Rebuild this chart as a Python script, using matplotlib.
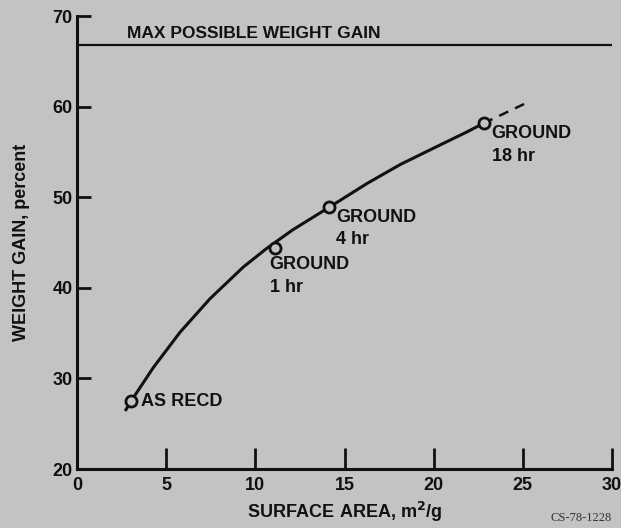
#!/usr/bin/env python3
"""Weight gain vs surface area, ground powder samples (scanned NASA figure)."""
import matplotlib
matplotlib.use("Agg")
import matplotlib.pyplot as plt

# faired curve
curve_x = [2.7, 3.07, 4.28, 5.78, 7.46, 9.33, 10.64, 12.1, 14.19, 16.25, 18.12, 19.98, 21.86, 22.79]
curve_y = [26.4, 27.6, 31.2, 35.1, 38.8, 42.3, 44.35, 46.4, 48.95, 51.5, 53.6, 55.4, 57.2, 58.15]
# dashed extrapolation
ext_x = [22.79, 25.3]
ext_y = [58.15, 60.5]

# measured samples
pt_x = [3.05, 11.1, 14.15, 22.8]
pt_y = [27.5, 44.4, 48.95, 58.15]
pt_labels = ["AS RECD", "GROUND\n1 hr", "GROUND\n4 hr", "GROUND\n18 hr"]

max_gain = 66.8
x_ticks = [0, 5, 10, 15, 20, 25, 30]
y_ticks = [20, 30, 40, 50, 60, 70]

BG = "#c3c3c3"
INK = "#111111"
plt.rcParams["font.family"] = ["Liberation Sans", "DejaVu Sans"]
plt.rcParams["font.weight"] = "bold"
plt.rcParams["axes.labelweight"] = "bold"

fig = plt.figure(figsize=(6.21, 5.28), dpi=100, facecolor=BG)
ax = fig.add_axes([77 / 621, 59 / 528, 535 / 621, 453 / 528])
ax.set_facecolor(BG)
ax.set_xlim(0, 30)
ax.set_ylim(20, 70)

for s in ("top", "right"):
    ax.spines[s].set_visible(False)
for s in ("left", "bottom"):
    ax.spines[s].set_linewidth(2.2)
    ax.spines[s].set_color(INK)

ax.set_xticks(x_ticks)
ax.set_yticks(y_ticks)
ax.tick_params(axis="x", direction="in", length=15, width=2, colors=INK,
               labelsize=13, pad=6)
ax.tick_params(axis="y", direction="in", length=10, width=2, colors=INK,
               labelsize=13, pad=3)

ax.axhline(max_gain, color=INK, lw=1.6)
ax.text(2.8, max_gain + 0.4, "MAX POSSIBLE WEIGHT GAIN", fontsize=12.5,
        color=INK, va="bottom", ha="left")

ax.plot(curve_x, curve_y, color=INK, lw=2.2, solid_capstyle="butt",
        solid_joinstyle="round")
ax.plot(ext_x, ext_y, color=INK, lw=1.8, ls=(0, (4, 3)))
ax.plot(pt_x, pt_y, "o", ms=8, mfc=BG, mec=INK, mew=2, zorder=5)

offsets = [(0.55, 0.0, "center"), (-0.3, -0.9, "top"),
           (0.4, -0.2, "top"), (0.45, -0.2, "top")]
for x, y, lab, (dx, dy, va) in zip(pt_x, pt_y, pt_labels, offsets):
    ax.text(x + dx, y + dy, lab, fontsize=13, color=INK, ha="left", va=va,
            linespacing=1.45)

ax.set_xlabel("SURFACE AREA, m$^2$/g", fontsize=13, color=INK, labelpad=4)
ax.set_ylabel("WEIGHT GAIN, percent", fontsize=13, color=INK, labelpad=16)

fig.text(0.985, 0.008, "CS-78-1228", fontsize=9, color="#333333", ha="right",
         va="bottom", family=["Liberation Serif", "DejaVu Serif"], weight="normal")

fig.savefig("out.png", dpi=100, facecolor=BG)
